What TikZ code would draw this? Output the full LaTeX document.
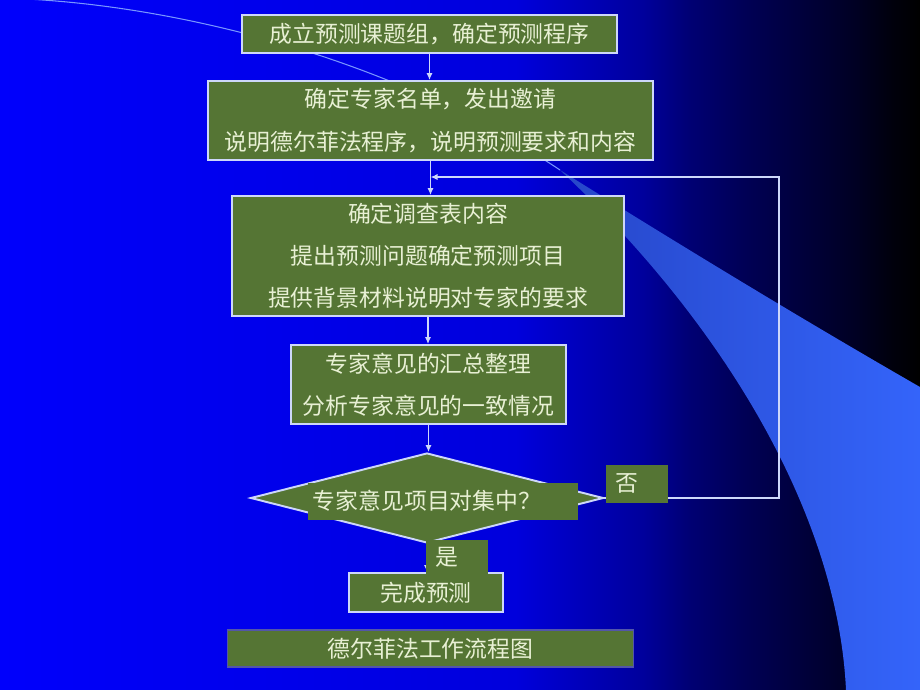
\documentclass[tikz,border=0pt]{standalone}
\usepackage{fontspec}
\setmainfont{Noto Sans CJK SC}
\usetikzlibrary{arrows.meta,shapes.geometric}

\definecolor{boxgreen}{RGB}{85,117,52}
\definecolor{boxline}{RGB}{205,215,250}
\definecolor{boxtext}{RGB}{232,240,212}
\definecolor{swooshblue}{RGB}{52,100,250}
\definecolor{swooshdark}{RGB}{38,70,200}
\definecolor{thinblue}{RGB}{120,150,255}
\definecolor{bgA}{RGB}{0,0,252}
\definecolor{bgB}{RGB}{0,0,220}
\definecolor{bgC}{RGB}{0,0,155}
\definecolor{bgD}{RGB}{0,0,115}
\definecolor{bgE}{RGB}{0,0,85}
\definecolor{bgF}{RGB}{0,0,60}
\definecolor{bgG}{RGB}{0,0,35}
\definecolor{bgH}{RGB}{0,0,12}
\definecolor{bgI}{RGB}{0,0,0}
% the path is fitted to the middle 25bp--75bp of the shading
\pgfdeclarehorizontalshading{slidebg}{100bp}{color(0bp)=(bgA); color(25bp)=(bgA); color(53bp)=(bgB); color(60bp)=(bgC); color(62.5bp)=(bgD); color(65.5bp)=(bgE); color(68.5bp)=(bgF); color(71.5bp)=(bgG); color(73.5bp)=(bgH); color(75bp)=(bgI); color(100bp)=(bgI)}

\tikzset{
  stepbox/.style={draw=boxline, line width=1.1pt, fill=boxgreen, text=boxtext,
    align=center, inner sep=0pt, font=\fontsize{13}{24}\selectfont},
  patchbox/.style={draw=boxgreen, fill=boxgreen, text=boxtext, inner sep=0pt,
    font=\fontsize{13}{24}\selectfont},
  checkbox/.style={diamond, draw=boxline, line width=1.1pt, fill=boxgreen, inner sep=0pt},
  flow/.style={draw=boxline, line width=0.7pt, -{Latex[length=4pt,width=3.5pt]}},
}

\begin{document}
\begin{tikzpicture}[x=0.02cm,y=-0.02cm]
%%%%% BACKGROUND %%%%%
\useasboundingbox (0,0) rectangle (920,690);
\shade[shading=slidebg] (0,0) rectangle (920,690);
\draw[thinblue, line width=0.6pt] (-5,-2) .. controls (150,0) and (380,50) .. (560,170);
\shade[left color=swooshdark, right color=swooshblue] (560,170) .. controls (680,245) and (800,318) .. (920,387)
  -- (920,690) -- (846,690) .. controls (838,520) and (730,330) .. (560,170) -- cycle;

%%%%% STEPS %%%%%
\node[stepbox, minimum width=7.5cm, minimum height=0.76cm] (setup) at (429.5,34) {成立预测课题组，确定预测程序};
\node[stepbox, minimum width=8.9cm, minimum height=1.58cm] (invite) at (430.5,120.5)
  {确定专家名单，发出邀请\\说明德尔菲法程序，说明预测要求和内容};
\node[stepbox, minimum width=7.84cm, minimum height=2.4cm] (survey) at (428,256)
  {确定调查表内容\\提出预测问题确定预测项目\\提供背景材料说明对专家的要求};
\node[stepbox, minimum width=5.5cm, minimum height=1.58cm] (collect) at (428.5,384.5)
  {专家意见的汇总整理\\分析专家意见的一致情况};

\node[checkbox, minimum width=7.06cm, minimum height=1.8cm] (check) at (427,498) {};
\node[patchbox, minimum width=5.38cm, minimum height=0.72cm] (checkbg) at (442.5,501) {};
\node[text=boxtext, font=\fontsize{13}{24}\selectfont, inner sep=0pt] (checktxt) at (427,501) {专家意见项目对集中？};

\node[stepbox, minimum width=3.08cm, minimum height=0.78cm] (done) at (426,592.5) {完成预测};

%%%%% ARROWS %%%%%
\draw[flow] (setup.south) -- (setup.south |- invite.north);
\draw[flow] (invite.south) -- (invite.south |- survey.north);
\draw[flow] (survey.south) -- (survey.south |- collect.north);
\draw[flow] (collect.south) -- (collect.south |- check.north);
\draw[flow] (check.south) -- (check.south |- done.north);

\coordinate (loopTop) at (779,177);
\coordinate (merge) at (invite.south |- loopTop);
\draw[flow] (check.east) -| (loopTop) -- (merge);

%%%%% LABELS %%%%%
\node[patchbox, minimum width=1.22cm, minimum height=0.74cm, text width=0.84cm, inner xsep=0.19cm, align=left] (no) at (636.5,483.5) {否};
\node[patchbox, minimum width=1.22cm, minimum height=0.7cm, text width=0.86cm, inner xsep=0.18cm, align=left] (yes) at (456.5,557.5) {是};

\node[stepbox, draw=bgD!60!boxline, line width=0.6pt, minimum width=8.14cm, minimum height=0.74cm] (title) at (430.5,648.5) {德尔菲法工作流程图};
\end{tikzpicture}
\end{document}
